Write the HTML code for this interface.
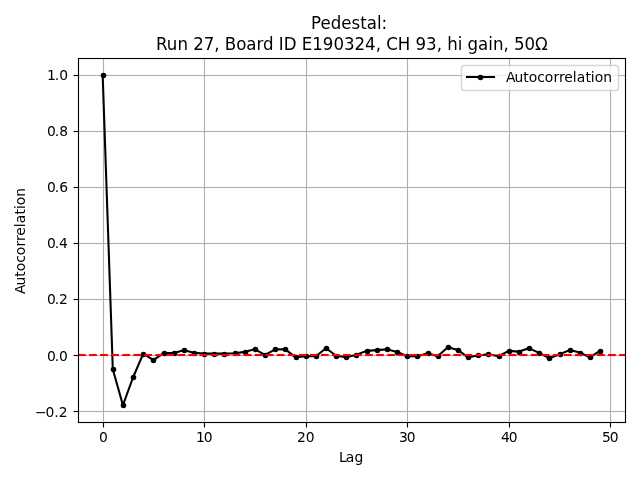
<!DOCTYPE html>
<html lang="en"><head><meta charset="utf-8"><title>Pedestal autocorrelation</title><style>html,body{margin:0;padding:0;background:#fff;overflow:hidden}svg{display:block}text{white-space:pre}</style></head><body>
<svg width="640" height="480" viewBox="0 0 640 480">
<defs><clipPath id="ax"><rect x="77.778" y="58.133" width="547.222" height="363.589"/></clipPath></defs>
<rect width="640" height="480" fill="#fff"/>
<g clip-path="url(#ax)" stroke="#b0b0b0" stroke-width="1.111" fill="none">
<path d="M103.5 57.133V422.722"/>
<path d="M204.5 57.133V422.722"/>
<path d="M306.5 57.133V422.722"/>
<path d="M407.5 57.133V422.722"/>
<path d="M509.5 57.133V422.722"/>
<path d="M610.5 57.133V422.722"/>
</g>
<g clip-path="url(#ax)" fill="#b0b0b0">
<rect x="70" y="410" width="560" height="3" fill-opacity="0.063"/><rect x="70" y="411" width="560" height="1"/>
<rect x="70" y="354" width="560" height="3" fill-opacity="0.063"/><rect x="70" y="355" width="560" height="1"/>
<rect x="70" y="298" width="560" height="3" fill-opacity="0.063"/><rect x="70" y="299" width="560" height="1"/>
<rect x="70" y="242" width="560" height="3" fill-opacity="0.063"/><rect x="70" y="243" width="560" height="1"/>
<rect x="70" y="186" width="560" height="3" fill-opacity="0.063"/><rect x="70" y="187" width="560" height="1"/>
<rect x="70" y="130" width="560" height="3" fill-opacity="0.063"/><rect x="70" y="131" width="560" height="1"/>
<rect x="70" y="74" width="560" height="3" fill-opacity="0.063"/><rect x="70" y="75" width="560" height="1"/>
</g>
<g stroke="#000" stroke-width="1.111" fill="none">
<path d="M103.5 422.5V427.5"/>
<path d="M204.5 422.5V427.5"/>
<path d="M306.5 422.5V427.5"/>
<path d="M407.5 422.5V427.5"/>
<path d="M509.5 422.5V427.5"/>
<path d="M610.5 422.5V427.5"/>
<path d="M78.5 411.5H73.5"/>
<path d="M78.5 355.5H73.5"/>
<path d="M78.5 299.5H73.5"/>
<path d="M78.5 243.5H73.5"/>
<path d="M78.5 187.5H73.5"/>
<path d="M78.5 131.5H73.5"/>
<path d="M78.5 75.5H73.5"/>
</g>
<g clip-path="url(#ax)">
<path d="M102.652 74.66L112.804 369.301L122.957 405.195L133.109 377.265L143.262 353.598L153.414 360.075L163.567 353.093L173.719 353.093L183.872 350.317L194.024 352.7L204.177 353.598L214.33 353.626L224.482 353.626L234.635 353.261L244.787 351.859L254.94 349.363L265.092 354.944L275.245 349.363L285.397 349.363L295.55 357.327L305.702 356.205L315.855 356.205L326.008 348.213L336.16 355.785L346.313 357.215L356.465 354.803L366.618 350.849L376.77 350.092L386.923 349.363L397.075 352.083L407.228 356.318L417.38 356.318L427.533 353.345L437.686 356.318L447.838 347.344L457.991 350.092L468.143 357.327L478.296 355.476L488.448 354.327L498.601 356.205L508.753 350.849L518.906 351.606L529.058 348.354L539.211 352.84L549.364 358.337L559.516 354.327L569.669 350.092L579.821 352.588L589.974 357.187L600.126 350.849" fill="none" stroke="#000" stroke-width="2.083" stroke-linejoin="round" stroke-linecap="square"/>
<g fill="#000">
<circle cx="103.5" cy="75.5" r="2.778"/>
<circle cx="113.5" cy="369.5" r="2.778"/>
<circle cx="123.5" cy="405.5" r="2.778"/>
<circle cx="133.5" cy="377.5" r="2.778"/>
<circle cx="143.5" cy="354.5" r="2.778"/>
<circle cx="153.5" cy="360.5" r="2.778"/>
<circle cx="164.5" cy="353.5" r="2.778"/>
<circle cx="174.5" cy="353.5" r="2.778"/>
<circle cx="184.5" cy="350.5" r="2.778"/>
<circle cx="194.5" cy="353.5" r="2.778"/>
<circle cx="204.5" cy="354.5" r="2.778"/>
<circle cx="214.5" cy="354.5" r="2.778"/>
<circle cx="224.5" cy="354.5" r="2.778"/>
<circle cx="235.5" cy="353.5" r="2.778"/>
<circle cx="245.5" cy="352.5" r="2.778"/>
<circle cx="255.5" cy="349.5" r="2.778"/>
<circle cx="265.5" cy="355.5" r="2.778"/>
<circle cx="275.5" cy="349.5" r="2.778"/>
<circle cx="285.5" cy="349.5" r="2.778"/>
<circle cx="296.5" cy="357.5" r="2.778"/>
<circle cx="306.5" cy="356.5" r="2.778"/>
<circle cx="316.5" cy="356.5" r="2.778"/>
<circle cx="326.5" cy="348.5" r="2.778"/>
<circle cx="336.5" cy="356.5" r="2.778"/>
<circle cx="346.5" cy="357.5" r="2.778"/>
<circle cx="356.5" cy="355.5" r="2.778"/>
<circle cx="367.5" cy="351.5" r="2.778"/>
<circle cx="377.5" cy="350.5" r="2.778"/>
<circle cx="387.5" cy="349.5" r="2.778"/>
<circle cx="397.5" cy="352.5" r="2.778"/>
<circle cx="407.5" cy="356.5" r="2.778"/>
<circle cx="417.5" cy="356.5" r="2.778"/>
<circle cx="428.5" cy="353.5" r="2.778"/>
<circle cx="438.5" cy="356.5" r="2.778"/>
<circle cx="448.5" cy="347.5" r="2.778"/>
<circle cx="458.5" cy="350.5" r="2.778"/>
<circle cx="468.5" cy="357.5" r="2.778"/>
<circle cx="478.5" cy="355.5" r="2.778"/>
<circle cx="488.5" cy="354.5" r="2.778"/>
<circle cx="499.5" cy="356.5" r="2.778"/>
<circle cx="509.5" cy="351.5" r="2.778"/>
<circle cx="519.5" cy="352.5" r="2.778"/>
<circle cx="529.5" cy="348.5" r="2.778"/>
<circle cx="539.5" cy="353.5" r="2.778"/>
<circle cx="549.5" cy="358.5" r="2.778"/>
<circle cx="560.5" cy="354.5" r="2.778"/>
<circle cx="570.5" cy="350.5" r="2.778"/>
<circle cx="580.5" cy="353.5" r="2.778"/>
<circle cx="590.5" cy="357.5" r="2.778"/>
<circle cx="600.5" cy="351.5" r="2.778"/>
</g>
<g fill="none" stroke="#f00" stroke-dasharray="7.708 3.333">
<path d="M78.088 353.5H625" stroke-width="1" stroke-opacity="0.043"/>
<path d="M78.088 356.5H625" stroke-width="1" stroke-opacity="0.063"/>
<path d="M78.088 355H625" stroke-width="2"/>
</g>
</g>
<g stroke="#000" stroke-width="1.111" fill="none" stroke-linecap="square">
<path d="M78.5 58.5V422.5"/>
<path d="M625.5 58.5V422.5"/>
</g>
<g fill="#000">
<rect x="77.945" y="421" width="548.11" height="3" fill-opacity="0.055"/><rect x="77.945" y="422" width="548.11" height="1"/>
<rect x="77.945" y="57" width="548.11" height="3" fill-opacity="0.055"/><rect x="77.945" y="58" width="548.11" height="1"/>
</g>
<rect x="461.5" y="65.5" width="157" height="25" rx="2.778" ry="2.778" fill="#fff" fill-opacity="0.8" stroke="#ccc" stroke-opacity="0.8" stroke-width="1.389"/>
<rect x="465.95" y="75" width="29.1" height="4" fill="#000" fill-opacity="0.043"/><rect x="465.95" y="76" width="29.1" height="2" fill="#000"/>
<circle cx="480.5" cy="77.5" r="2.778" fill="#000"/>
<g font-family="'DejaVu Sans', 'Liberation Sans', sans-serif" fill="#000">
<text x="99.027" y="441.998" font-size="13.889">0</text>
<text x="195.989 203.864" y="441.998" font-size="13.889">10</text>
<text x="297.077 305.827" y="441.998" font-size="13.889">20</text>
<text x="398.978 406.728" y="441.998" font-size="13.889">30</text>
<text x="500.878 508.628" y="441.998" font-size="13.889">40</text>
<text x="602.029 609.779" y="441.998" font-size="13.889">50</text>
<text x="34.931 45.556 54.306 58.681" y="416.695" font-size="13.889">−0.2</text>
<text x="46.931 54.681 59.056" y="360.61" font-size="13.889">0.0</text>
<text x="46.931 54.681 59.056" y="304.276" font-size="13.889">0.2</text>
<text x="46.931 54.681 59.056" y="248.191" font-size="13.889">0.4</text>
<text x="46.931 54.681 59.306" y="192.106" font-size="13.889">0.6</text>
<text x="46.931 54.681 59.306" y="136.022" font-size="13.889">0.8</text>
<text x="46.931 54.806 59.181" y="79.937" font-size="13.889">1.0</text>
<text x="339.014 345.764 354.389" y="461.745" font-size="13.889">Lag</text>
<text transform="translate(24.635 294.928) rotate(-90)" x="1 9.5 18.25 23.75 32.25 39.625 48.375 53.875 59.125 67.625 71.75 80.375 85.875 89.75 98.25" y="0" font-size="13.889">Autocorrelation</text>
<text transform="translate(311.01 28.637) scale(1 1.005)" x="0 9.5 19.75 30.25 40.5 49.25 55.75 65.875 70.5 76.25" y="0" font-size="16.667">Pedestal: </text>
<text transform="translate(155.928 49.55) scale(1 1.005)" x="0 10.875 21.625 31.875 37.375 47.75 58.25 63.625 68.875 80.25 90.375 100.5 107.125 117.625 122.875 127.75 140.625 145.875 156.25 166.875 177.625 188.125 198.5 209.125 219.875 225 230.25 241.75 254.25 259.5 270 280.875 286 291.25 301.75 306.375 311.625 322.125 332.25 337.125 347.625 352.75 358 368.5 379" y="0" font-size="16.667">Run 27, Board ID E190324, CH 93, hi gain, 50Ω</text>
<text x="505.923 514.423 523.173 528.673 537.173 544.798 553.548 559.048 564.298 572.798 576.673 585.548 590.798 594.673 603.173" y="81.687" font-size="13.889">Autocorrelation</text>
</g>
</svg>
</body></html>
